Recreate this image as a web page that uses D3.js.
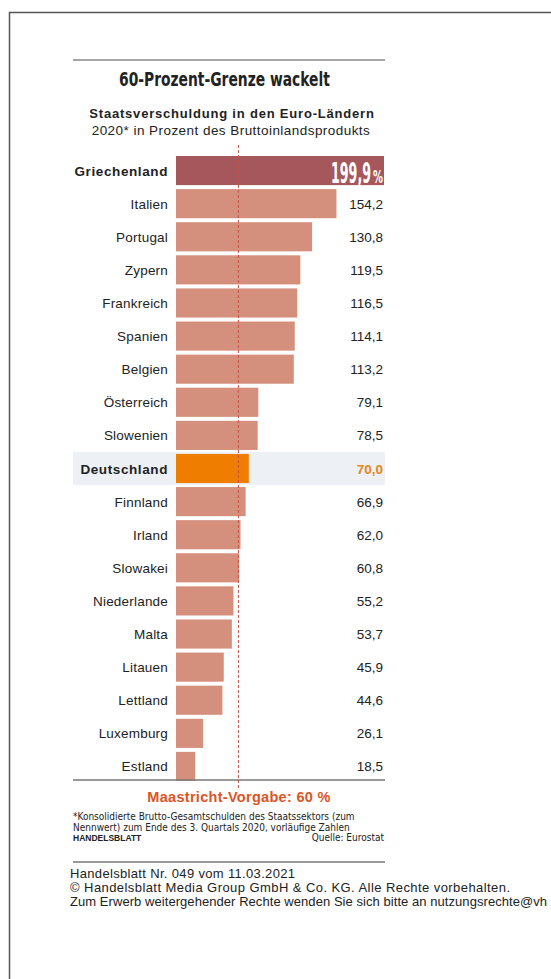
<!doctype html>
<html>
<head>
<meta charset="utf-8">
<script src="https://cdnjs.cloudflare.com/ajax/libs/d3/7.8.5/d3.min.js"></script>
<style>
  body { margin: 0; background: #fff; }
  svg { display: block; }
  text { font-family: "Liberation Sans", Arial, sans-serif; }
  .cond { font-family: "DejaVu Sans Condensed", "DejaVu Sans", sans-serif; font-stretch: condensed; }
</style>
</head>
<body>
<script>
// Staatsverschuldung 2020, in % des BIP
var countries = ["Griechenland", "Italien", "Portugal", "Zypern", "Frankreich", "Spanien", "Belgien",
  "Österreich", "Slowenien", "Deutschland", "Finnland", "Irland", "Slowakei", "Niederlande",
  "Malta", "Litauen", "Lettland", "Luxemburg", "Estland"];
var values = [199.9, 154.2, 130.8, 119.5, 116.5, 114.1, 113.2, 79.1, 78.5, 70.0, 66.9, 62.0,
  60.8, 55.2, 53.7, 45.9, 44.6, 26.1, 18.5];
var limit = 60;

var fmt = function(v) { return d3.format(".1f")(v).replace(".", ","); };

var width = 551, height = 979;
var svg = d3.select("body").append("svg")
    .attr("width", width)
    .attr("height", height);

// frame
svg.append("path")
    .attr("d", "M9.5," + height + "V12.5H" + width)
    .attr("fill", "none")
    .attr("stroke", "#555")
    .attr("stroke-width", 1.5);

var left = 73, right = 385;

// schmale Schrift: natürlich setzen, dann horizontal auf Zielbreite stauchen
function squeeze(sel, x0, y0, w) {
  var len = sel.node().getComputedTextLength();
  sel.attr("transform", "translate(" + x0 + "," + y0 + ") scale(" + (w / len) + ",1)");
}

svg.append("line").attr("x1", left).attr("x2", right).attr("y1", 60).attr("y2", 60)
    .attr("stroke", "#888").attr("stroke-width", 1.5);

var title = svg.append("text").attr("class", "cond")
    .attr("font-size", 19).attr("font-weight", "bold").attr("fill", "#222")
    .text("60-Prozent-Grenze wackelt");
squeeze(title, 119, 86, 211);

svg.append("text")
    .attr("x", 232).attr("y", 118).attr("text-anchor", "middle")
    .attr("font-size", 13).attr("font-weight", "bold").attr("fill", "#222")
    .attr("letter-spacing", 0.8)
    .text("Staatsverschuldung in den Euro-Ländern");

svg.append("text")
    .attr("x", 231).attr("y", 135).attr("text-anchor", "middle")
    .attr("font-size", 13.5).attr("fill", "#222")
    .attr("letter-spacing", 0.45)
    .text("2020* in Prozent des Bruttoinlandsprodukts");

var x = d3.scaleLinear().domain([0, 199.9]).range([176, 384]);
var y = d3.scaleBand().domain(countries).range([154, 783]).paddingInner(0.12).paddingOuter(0.06);

var g = svg.append("g");

// highlight row Deutschland
g.append("rect")
    .attr("x", left).attr("width", right - left)
    .attr("y", y("Deutschland") - 2).attr("height", y.bandwidth() + 4)
    .attr("fill", "#edf1f5");

g.selectAll(".bar")
    .data(countries)
    .enter().append("rect")
    .attr("class", "bar")
    .attr("x", x(0))
    .attr("y", function(d) { return y(d); })
    .attr("width", function(d, i) { return x(values[i]) - x(0); })
    .attr("height", y.bandwidth())
    .attr("fill", function(d) {
      return d === "Griechenland" ? "#a5575c" : d === "Deutschland" ? "#ee7d00" : "#d4907c";
    });

g.selectAll(".lab")
    .data(countries)
    .enter().append("text")
    .attr("x", 168)
    .attr("y", function(d) { return y(d) + y.bandwidth() / 2 + 5; })
    .attr("text-anchor", "end")
    .attr("font-size", 13.5)
    .attr("fill", "#222")
    .attr("font-weight", function(d) { return d === "Griechenland" || d === "Deutschland" ? "bold" : null; })
    .attr("letter-spacing", function(d) { return d === "Griechenland" || d === "Deutschland" ? 0.6 : 0.2; })
    .text(function(d) { return d; });

// Wert-Beschriftungen (ohne Griechenland, das steht groß im Balken)
g.selectAll(".val")
    .data(countries.slice(1))
    .enter().append("text")
    .attr("x", 383)
    .attr("y", function(d) { return y(d) + y.bandwidth() / 2 + 5; })
    .attr("text-anchor", "end")
    .attr("font-size", 13.5)
    .attr("font-weight", function(d) { return d === "Deutschland" ? "bold" : null; })
    .attr("fill", function(d) { return d === "Deutschland" ? "#e88418" : "#222"; })
    .text(function(d, i) { return fmt(values[i + 1]); });

var gy = y(countries[0]) + y.bandwidth() - 2;
var big = svg.append("text").attr("class", "cond")
    .attr("font-size", 28).attr("font-weight", "bold").attr("fill", "#fff")
    .text(fmt(values[0]));
squeeze(big, 331, gy, 40);
var pct = svg.append("text").attr("class", "cond")
    .attr("font-size", 17).attr("font-weight", "bold").attr("fill", "#fff")
    .text("%");
squeeze(pct, 373, gy, 10);

// axis line
svg.append("line").attr("x1", left).attr("x2", right).attr("y1", 780).attr("y2", 780)
    .attr("stroke", "#777").attr("stroke-width", 1.5);

// 60% limit
svg.append("line")
    .attr("x1", x(limit)).attr("x2", x(limit))
    .attr("y1", 145).attr("y2", 788)
    .attr("stroke", "#c9504a").attr("stroke-width", 1)
    .attr("stroke-dasharray", "3,2");

svg.append("text")
    .attr("x", 239).attr("y", 802).attr("text-anchor", "middle")
    .attr("font-size", 14.5).attr("font-weight", "bold").attr("fill", "#db5526")
    .attr("letter-spacing", 0.3)
    .text("Maastricht-Vorgabe: " + limit + " %");

var foot = svg.append("g").attr("fill", "#222");
foot.append("text").attr("class", "cond").attr("x", left).attr("y", 820).attr("font-size", 10)
    .text("*Konsolidierte Brutto-Gesamtschulden des Staatssektors (zum");
foot.append("text").attr("class", "cond").attr("x", left).attr("y", 831).attr("font-size", 10)
    .text("Nennwert) zum Ende des 3. Quartals 2020, vorläufige Zahlen");
foot.append("text").attr("x", left).attr("y", 841).attr("font-size", 8.5).attr("font-weight", "bold")
    .text("HANDELSBLATT");
foot.append("text").attr("class", "cond").attr("x", 384).attr("y", 841).attr("text-anchor", "end").attr("font-size", 10)
    .text("Quelle: Eurostat");

svg.append("line").attr("x1", left).attr("x2", right).attr("y1", 862).attr("y2", 862)
    .attr("stroke", "#777").attr("stroke-width", 1.5);

var notes = ["Handelsblatt Nr. 049 vom 11.03.2021",
  "© Handelsblatt Media Group GmbH & Co. KG. Alle Rechte vorbehalten.",
  "Zum Erwerb weitergehender Rechte wenden Sie sich bitte an nutzungsrechte@vh"];
var noteLen = [225, 440, 477];
svg.selectAll(".note")
    .data(notes)
    .enter().append("text")
    .attr("x", 70)
    .attr("y", function(d, i) { return 878 + i * 14; })
    .attr("font-size", 13)
    .attr("textLength", function(d, i) { return noteLen[i]; })
    .attr("lengthAdjust", "spacing")
    .attr("fill", "#222")
    .text(function(d) { return d; });
</script>
</body>
</html>
